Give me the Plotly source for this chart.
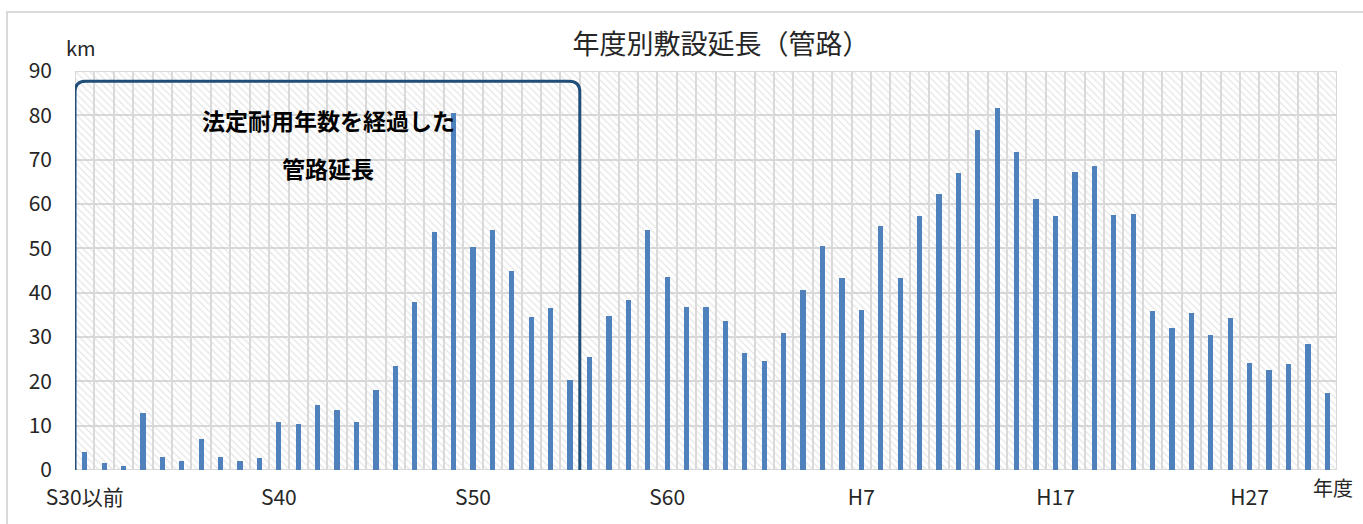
import plotly.graph_objects as go

# ---- data ----
categories = (["S30以前"] + [f"S{y}" for y in range(31, 64)] + [f"H{y}" for y in range(1, 32)])
lengths_km = [
    4.1, 1.6, 1.0, 12.8, 2.9, 2.1, 7.1, 2.9, 2.0, 2.7,
    10.9, 10.3, 14.6, 13.5, 10.8, 18.0, 23.5, 38.0, 53.6, 80.6,
    50.2, 54.1, 45.0, 34.4, 36.5, 20.3, 25.4, 34.7, 38.3, 54.2,
    43.5, 36.8, 36.7, 33.7, 26.5, 24.6, 30.8, 40.5, 50.5, 43.4,
    36.2, 55.1, 43.2, 57.4, 62.3, 66.9, 76.8, 81.6, 71.7, 61.1,
    57.2, 67.3, 68.6, 57.6, 57.7, 35.9, 32.0, 35.4, 30.4, 34.2,
    24.2, 22.6, 23.8, 28.4, 17.4,
]
tick_labels = ["S30以前", "S40", "S50", "S60", "H7", "H17", "H27"]
y_max = 90
y_ticks = list(range(0, 91, 10))
title_text = "年度別敷設延長（管路）"
box_text = ["法定耐用年数を経過した", "管路延長"]
box_last_category = "S55"   # last category inside the highlighted box

# ---- build ----
xs = list(range(len(categories)))
tick_idx = [categories.index(t) for t in tick_labels]
font_family = "Noto Sans CJK JP, Noto Sans, sans-serif"
W, H = 1363, 524
ML, MR, MT, MB = 75, 26, 71, 54
PW, PH = W - ML - MR, H - MT - MB

fig = go.Figure()
# hatched background cells
fig.add_trace(go.Bar(
    x=xs, y=[y_max] * len(xs), width=1,
    marker=dict(color="rgba(0,0,0,0)",
                line=dict(color="#d9d9d9", width=2),
                pattern=dict(shape="\\", fgcolor="#cccccc", bgcolor="rgba(0,0,0,0)",
                             size=5, solidity=0.25, fillmode="overlay")),
    hoverinfo="skip", showlegend=False,
))
fig.add_trace(go.Bar(
    x=xs, y=lengths_km, width=0.27,
    marker=dict(color="#4f81bd", line=dict(width=0)),
    showlegend=False, name="敷設延長",
))

# rounded box around the pipes beyond legal service life
x0 = -0.5
x1 = categories.index(box_last_category) + 0.5
y0, y1 = -2.5, 87.7
rx, ry = 0.55, 2.4
path = (f"M {x0+rx},{y1} L {x1-rx},{y1} Q {x1},{y1} {x1},{y1-ry} "
        f"L {x1},{y0+ry} Q {x1},{y0} {x1-rx},{y0} L {x0+rx},{y0} "
        f"Q {x0},{y0} {x0},{y0+ry} L {x0},{y1-ry} Q {x0},{y1} {x0+rx},{y1} Z")

fig.update_layout(
    width=W, height=H,
    margin=dict(l=ML, r=MR, t=MT, b=MB),
    paper_bgcolor="white", plot_bgcolor="white",
    barmode="overlay", bargap=0,
    font=dict(family=font_family, color="#262626"),
    title=dict(text=title_text, x=721 / W, xanchor="center", y=1 - 45 / H,
               yanchor="middle", font=dict(size=27, color="#262626", family=font_family)),
    xaxis=dict(range=[-0.5, len(xs) - 0.5], tickmode="array", tickvals=tick_idx,
               ticktext=tick_labels, showgrid=False, zeroline=False,
               tickfont=dict(size=21, color="#262626"), ticks="", ticklen=0,
               ticklabelstandoff=13, fixedrange=True),
    yaxis=dict(range=[0, y_max], tickmode="array", tickvals=y_ticks,
               showgrid=True, gridcolor="#d9d9d9", gridwidth=2, zeroline=False,
               tickfont=dict(size=21, color="#262626"), ticks="", ticklabelstandoff=22,
               fixedrange=True),
    shapes=[
        dict(type="path", path=path, xref="x", yref="y",
             line=dict(color="#1f4e79", width=3), fillcolor="rgba(0,0,0,0)", layer="above"),
        dict(type="rect", xref="paper", yref="paper",
             x0=(7 - ML) / PW, x1=1.2, y0=-0.5, y1=1 + (MT - 12) / PH,
             line=dict(color="#d9d9d9", width=2), fillcolor="rgba(0,0,0,0)", layer="below"),
    ],
    annotations=[
        dict(text="km", xref="paper", yref="paper", x=(81 - ML) / PW, y=1 + (MT - 48) / PH,
             xanchor="center", yanchor="middle", showarrow=False,
             font=dict(size=20, color="#262626")),
        dict(text="年度", xref="paper", yref="paper", x=(1333 - ML) / PW, y=-(488 - MT - PH) / PH,
             xanchor="center", yanchor="middle", showarrow=False,
             font=dict(size=20, color="#262626")),
        dict(text=f"<b>{box_text[0]}</b>", xref="x", yref="y", x=12.55, y=79.0,
             xanchor="center", yanchor="middle", showarrow=False,
             font=dict(size=23, color="black")),
        dict(text=f"<b>{box_text[1]}</b>", xref="x", yref="y", x=12.55, y=68.1,
             xanchor="center", yanchor="middle", showarrow=False,
             font=dict(size=23, color="black")),
    ],
)

fig.write_html("out.html", config={"displayModeBar": False},
               post_script="document.body.style.margin='0px';")
